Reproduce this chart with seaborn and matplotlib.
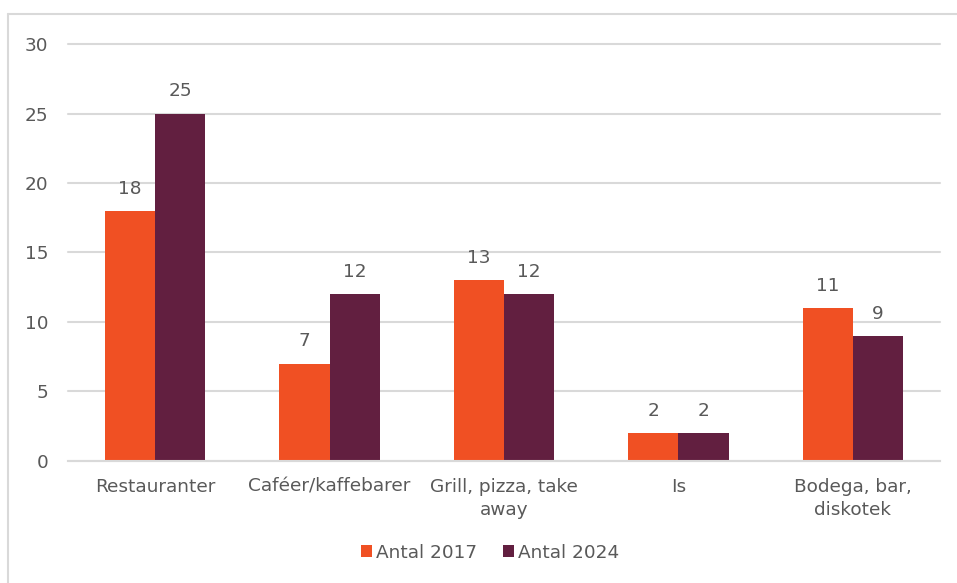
import matplotlib
matplotlib.use("Agg")
import matplotlib.pyplot as plt
from matplotlib.lines import Line2D
import seaborn as sns
import pandas as pd

categories = ["Restauranter", "Caféer/kaffebarer", "Grill, pizza, take\naway", "Is", "Bodega, bar,\ndiskotek"]
series_names = ["Antal 2017", "Antal 2024"]
values_2017 = [18, 7, 13, 2, 11]
values_2024 = [25, 12, 12, 2, 9]
yticks = [0, 5, 10, 15, 20, 25, 30]
colors = ["#F05023", "#621F40"]

df = pd.DataFrame({
    "cat": categories * 2,
    "series": [series_names[0]] * len(categories) + [series_names[1]] * len(categories),
    "value": values_2017 + values_2024,
})

sns.set_theme(style="white")
plt.rcParams["font.family"] = ["DejaVu Sans"]
text_color = "#595959"
grid_color = "#D9D9D9"
fs = 13.3

fig = plt.figure(figsize=(9.57, 5.83), dpi=100)
ax = fig.add_axes([0.0711, 0.2093, 0.9111, 0.7152])

sns.barplot(data=df, x="cat", y="value", hue="series", order=categories,
            hue_order=series_names, palette=colors, saturation=1,
            width=0.575, ax=ax, linewidth=0)

for c in ax.containers:
    ax.bar_label(c, fmt="%d", padding=9.5, fontsize=fs, color=text_color)

ax.set_ylim(0, 30)
ax.set_xlim(-0.5, 4.5)
ax.set_yticks(yticks)
ax.yaxis.grid(True, color=grid_color, linewidth=1.5)
for gl in ax.get_ygridlines():
    gl.set_clip_on(False)
ax.set_axisbelow(True)
for s in ["top", "right", "left"]:
    ax.spines[s].set_visible(False)
ax.spines["bottom"].set_color(grid_color)
ax.spines["bottom"].set_linewidth(1.5)
ax.set_xlabel("")
ax.set_ylabel("")
ax.tick_params(axis="both", length=0, labelsize=fs, colors=text_color)
ax.tick_params(axis="y", pad=14)
ax.tick_params(axis="x", pad=12)
for lbl in ax.get_xticklabels():
    lbl.set_linespacing(1.4)

handles, labels = ax.get_legend_handles_labels()
ax.get_legend().remove()
fig.legend(handles, labels, loc="center", bbox_to_anchor=(0.512, 0.052), ncol=2,
           frameon=False, fontsize=fs, handlelength=0.6, handleheight=0.6,
           handletextpad=0.2, columnspacing=1.4, labelcolor=text_color)

fig.add_artist(Line2D([0.0084, 0.0084], [0, 0.976], color=grid_color, linewidth=1.5))
fig.add_artist(Line2D([0.0084, 1.0], [0.976, 0.976], color=grid_color, linewidth=1.5))

fig.savefig("out.png", dpi=100)
